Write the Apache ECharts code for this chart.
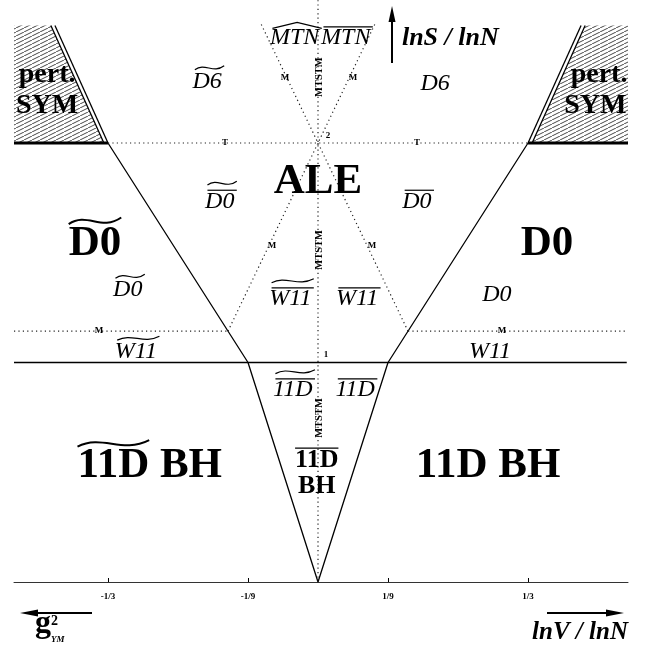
<!DOCTYPE html>
<html>
<head>
<meta charset="utf-8">
<script src="https://cdn.jsdelivr.net/npm/echarts@6/dist/echarts.min.js"></script>
<style>
  html, body { margin: 0; padding: 0; background: #fff; }
  #chart { width: 662px; height: 650px; }
</style>
</head>
<body>
<div id="chart"></div>
<script>
// x = lnV/lnN, y = lnS/lnN
const tickValues = [-1/3, -1/9, 1/9, 1/3];
const tickLabels = ['-1/3', '-1/9', '1/9', '1/3'];

const X_MIN = -0.4825;
const X_MAX = 0.492;

// solid phase boundaries
const solidLines = [
  [[X_MIN, 1], [0.49, 1]],
  [[-1/3, 2], [-1/9, 1], [0, 0], [1/9, 1], [1/3, 2]],
  [[-1/3, 2], [-0.4175, 2.535]],
  [[1/3, 2], [0.4175, 2.535]],
  [[-1/3 - 0.0065, 2], [-0.424, 2.535]],
  [[1/3 + 0.0065, 2], [0.424, 2.535]]
];
// thick edge under the perturbative corners
const thickLines = [
  [[X_MIN, 2], [-1/3, 2]],
  [[1/3, 2], [X_MAX, 2]]
];
// dotted crossovers
const dottedLines = [
  [[0, 0], [0, 2.65]],
  [[-1/3, 2], [1/3, 2]],
  [[X_MIN, 8/7], [-1/7, 8/7]],
  [[1/7, 8/7], [0.49, 8/7]],
  [[-1/7, 8/7], [0.092, 2.552]],
  [[1/7, 8/7], [-0.092, 2.552]]
];
// hatched perturbative SYM corners
const symCorners = [
  [[X_MIN, 2], [-1/3 - 0.0065, 2], [-0.424, 2.535], [X_MIN, 2.535]],
  [[1/3 + 0.0065, 2], [X_MAX, 2], [X_MAX, 2.535], [0.424, 2.535]]
];

// [x, y, text, kind, accent, accentChars]
const regionLabels = [
  [-0.430, 2.312, 'pert.', 'sym', '', 0],
  [-0.430, 2.168, 'SYM', 'sym', '', 0],
  [0.446, 2.312, 'pert.', 'sym', '', 0],
  [0.440, 2.168, 'SYM', 'sym', '', 0],
  [-0.176, 2.280, 'D6', 'it', 'tilde', 0],
  [0.186, 2.269, 'D6', 'it', '', 0],
  [-0.037, 2.478, 'MTN', 'it', 'hat', 0],
  [0.044, 2.478, 'MTN', 'it', 'bar', 0],
  [0.210, 2.478, 'lnS / lnN', 'name', '', 0],
  [0, 1.825, 'ALE', 'big', '', 0],
  [-0.156, 1.734, 'D0', 'it', 'barTilde', 0],
  [0.157, 1.734, 'D0', 'it', 'bar', 0],
  [-0.354, 1.542, 'D0', 'big', 'tilde', 0],
  [0.3635, 1.542, 'D0', 'big', '', 0],
  [-0.302, 1.330, 'D0', 'it', 'tilde', 0],
  [0.284, 1.308, 'D0', 'it', '', 0],
  [-0.044, 1.289, 'W11', 'it', 'barTilde', 0],
  [0.062, 1.289, 'W11', 'it', 'bar', 0],
  [-0.289, 1.048, 'W11', 'it', 'tilde', 0],
  [0.273, 1.048, 'W11', 'it', '', 0],
  [-0.040, 0.875, '11D', 'it', 'barTilde', 0],
  [0.059, 0.875, '11D', 'it', 'bar', 0],
  [-0.002, 0.556, '11D', 'mid', 'bar', 0],
  [-0.002, 0.437, 'BH', 'mid', '', 0],
  [-0.267, 0.528, '11D BH', 'big', 'tilde', 3],
  [0.270, 0.528, '11D BH', 'big', '', 0]
];

// small markers on the crossover lines
const markerLabels = [
  [-0.0524, 2.296, 'M'], [0.0556, 2.296, 'M'],
  [-0.073, 1.531, 'M'], [0.0857, 1.531, 'M'],
  [-0.3476, 1.1435, 'M'], [0.292, 1.1435, 'M'],
  [-0.1476, 2.0, 'T'], [0.157, 2.0, 'T'],
  [0.016, 2.035, '2'], [0.0127, 1.034, '1']
];
const mtstmLabels = [[0.002, 2.30], [0.002, 1.513], [0.002, 0.747]];

const SERIF = '"Liberation Serif", "DejaVu Serif", serif';
const fontKinds = {
  sym: { size: 28, weight: 'bold', style: 'normal' },
  big: { size: 43, weight: 'bold', style: 'normal' },
  mid: { size: 26, weight: 'bold', style: 'normal' },
  it: { size: 24, weight: 'normal', style: 'italic' },
  name: { size: 26, weight: 'bold', style: 'italic' },
  tiny: { size: 9, weight: 'bold', style: 'normal' },
  rot: { size: 10.5, weight: 'bold', style: 'normal' }
};

function fontOf(k) {
  return k.style + ' ' + k.weight + ' ' + k.size + 'px ' + SERIF;
}

const measureCtx = document.createElement('canvas').getContext('2d');
function textWidth(str, font) {
  measureCtx.font = font;
  return measureCtx.measureText(str).width;
}

function hatchPattern() {
  const c = document.createElement('canvas');
  c.width = 8;
  c.height = 4;
  const g = c.getContext('2d');
  g.fillStyle = '#fff';
  g.fillRect(0, 0, 8, 4);
  g.strokeStyle = '#333';
  g.lineWidth = 0.9;
  g.beginPath();
  g.moveTo(-1, 4.5);
  g.lineTo(9, -0.5);
  g.stroke();
  return { image: c, repeat: 'repeat' };
}

function accentShapes(cx, cy, lab, k) {
  const font = fontOf(k);
  const accent = lab[4];
  const out = [];
  if (!accent) return out;
  const full = textWidth(lab[2], font);
  const part = lab[5] ? textWidth(lab[2].slice(0, lab[5]), font) : full;
  const shift = k.style === 'italic' ? k.size * 0.1 : 0;
  const x0 = cx - full / 2 + shift;
  const x1 = x0 + part;
  const lw = k.size > 30 ? 2 : 1.2;
  let top = cy - k.size * 0.36;
  if (accent === 'bar' || accent === 'barTilde') {
    top -= 2.5;
    out.push({ type: 'line', shape: { x1: x0, y1: top, x2: x1, y2: top },
      style: { stroke: '#000', lineWidth: 1.2 } });
    top -= 2;
  }
  if (accent === 'tilde' || accent === 'barTilde') {
    const h = k.size > 30 ? 5 : 3;
    const yb = top - h - 2;
    const w = x1 - x0;
    out.push({ type: 'bezierCurve',
      shape: { x1: x0, y1: yb + h * 0.6, cpx1: x0 + w * 0.35, cpy1: yb - h * 1.9,
               cpx2: x0 + w * 0.62, cpy2: yb + h * 2.1, x2: x1, y2: yb - h * 0.7 },
      style: { stroke: '#000', lineWidth: lw, fill: null } });
  }
  if (accent === 'hat') {
    const yb = top - 1;
    out.push({ type: 'polyline',
      shape: { points: [[x0, yb], [(x0 + x1) / 2, yb - 6], [x1, yb]] },
      style: { stroke: '#000', lineWidth: 1.2, fill: null } });
  }
  return out;
}

function lineSeries(lines, style) {
  return lines.map(pts => ({
    type: 'line',
    data: pts,
    symbol: 'none',
    silent: true,
    clip: false,
    lineStyle: style,
    z: 3
  }));
}

const chart = echarts.init(document.getElementById('chart'));
const hatch = hatchPattern();

const option = {
  animation: false,
  backgroundColor: '#fff',
  grid: { left: 14, right: 662 - 628, top: 0, bottom: 68 },
  xAxis: {
    type: 'value',
    min: X_MIN,
    max: X_MAX,
    splitLine: { show: false },
    axisLine: { show: true, onZero: false, lineStyle: { color: '#333', width: 1 } },
    axisTick: { show: true, inside: true, length: 4, customValues: tickValues,
      lineStyle: { color: '#000' } },
    axisLabel: {
      customValues: tickValues,
      margin: 10,
      color: '#000',
      fontFamily: SERIF,
      fontWeight: 'bold',
      fontSize: 9,
      formatter: v => {
        const i = tickValues.findIndex(t => Math.abs(t - v) < 1e-6);
        return i >= 0 ? tickLabels[i] : '';
      }
    }
  },
  yAxis: { type: 'value', min: 0, max: 582 / 219.5, show: false },
  graphic: [
    { type: 'line', shape: { x1: 392, y1: 63, x2: 392, y2: 20 }, style: { stroke: '#000', lineWidth: 2 } },
    { type: 'polygon', shape: { points: [[392, 6], [388.5, 22], [395.5, 22]] }, style: { fill: '#000' } },
    { type: 'line', shape: { x1: 92, y1: 613, x2: 36, y2: 613 }, style: { stroke: '#000', lineWidth: 2 } },
    { type: 'polygon', shape: { points: [[20, 613], [38, 609.5], [38, 616.5]] }, style: { fill: '#000' } },
    { type: 'line', shape: { x1: 547, y1: 613, x2: 608, y2: 613 }, style: { stroke: '#000', lineWidth: 2 } },
    { type: 'polygon', shape: { points: [[624, 613], [606, 609.5], [606, 616.5]] }, style: { fill: '#000' } },
    { type: 'text', x: 580, y: 633, style: { text: 'lnV / lnN', font: 'italic bold 25px ' + SERIF,
      fill: '#000', align: 'center', verticalAlign: 'middle' } },
    { type: 'text', x: 43, y: 624, style: { text: 'g', font: 'bold 32px ' + SERIF,
      fill: '#000', align: 'center', verticalAlign: 'middle' } },
    { type: 'text', x: 51, y: 621, style: { text: '2', font: 'bold 14px ' + SERIF,
      fill: '#000', align: 'left', verticalAlign: 'middle' } },
    { type: 'text', x: 51, y: 640, style: { text: 'YM', font: 'italic bold 9px ' + SERIF,
      fill: '#000', align: 'left', verticalAlign: 'middle' } }
  ],
  series: [
    {
      type: 'custom',
      silent: true,
      z: 1,
      data: symCorners.map((p, i) => [i]),
      renderItem: (params, api) => ({
        type: 'polygon',
        shape: { points: symCorners[params.dataIndex].map(p => api.coord(p)) },
        style: { fill: hatch, stroke: null }
      })
    },
    ...lineSeries(solidLines, { color: '#000', width: 1.3 }),
    ...lineSeries(thickLines, { color: '#000', width: 3 }),
    ...lineSeries(dottedLines, { color: '#222', width: 1.2, type: [1.2, 3.2] }),
    {
      type: 'custom',
      silent: true,
      z: 5,
      data: regionLabels.map(l => [l[0], l[1]]),
      encode: { x: 0, y: 1 },
      renderItem: (params, api) => {
        const lab = regionLabels[params.dataIndex];
        const k = fontKinds[lab[3]];
        const p = api.coord([lab[0], lab[1]]);
        return {
          type: 'group',
          children: [{
            type: 'text', x: p[0], y: p[1],
            style: { text: lab[2], font: fontOf(k), fill: '#000', align: 'center', verticalAlign: 'middle' }
          }].concat(accentShapes(p[0], p[1], lab, k))
        };
      }
    },
    {
      type: 'custom',
      silent: true,
      z: 5,
      data: markerLabels.map(l => [l[0], l[1]]),
      encode: { x: 0, y: 1 },
      renderItem: (params, api) => {
        const lab = markerLabels[params.dataIndex];
        const p = api.coord([lab[0], lab[1]]);
        return {
          type: 'text', x: p[0], y: p[1],
          style: { text: lab[2], font: fontOf(fontKinds.tiny), fill: '#000', align: 'center', verticalAlign: 'middle' }
        };
      }
    },
    {
      type: 'custom',
      silent: true,
      z: 5,
      data: mtstmLabels,
      encode: { x: 0, y: 1 },
      renderItem: (params, api) => {
        const p = api.coord(mtstmLabels[params.dataIndex]);
        return {
          type: 'text', x: p[0], y: p[1], rotation: Math.PI / 2,
          style: { text: 'MTSTM', font: fontOf(fontKinds.rot), fill: '#000', align: 'center', verticalAlign: 'middle' }
        };
      }
    }
  ]
};

chart.setOption(option);
</script>
</body>
</html>
